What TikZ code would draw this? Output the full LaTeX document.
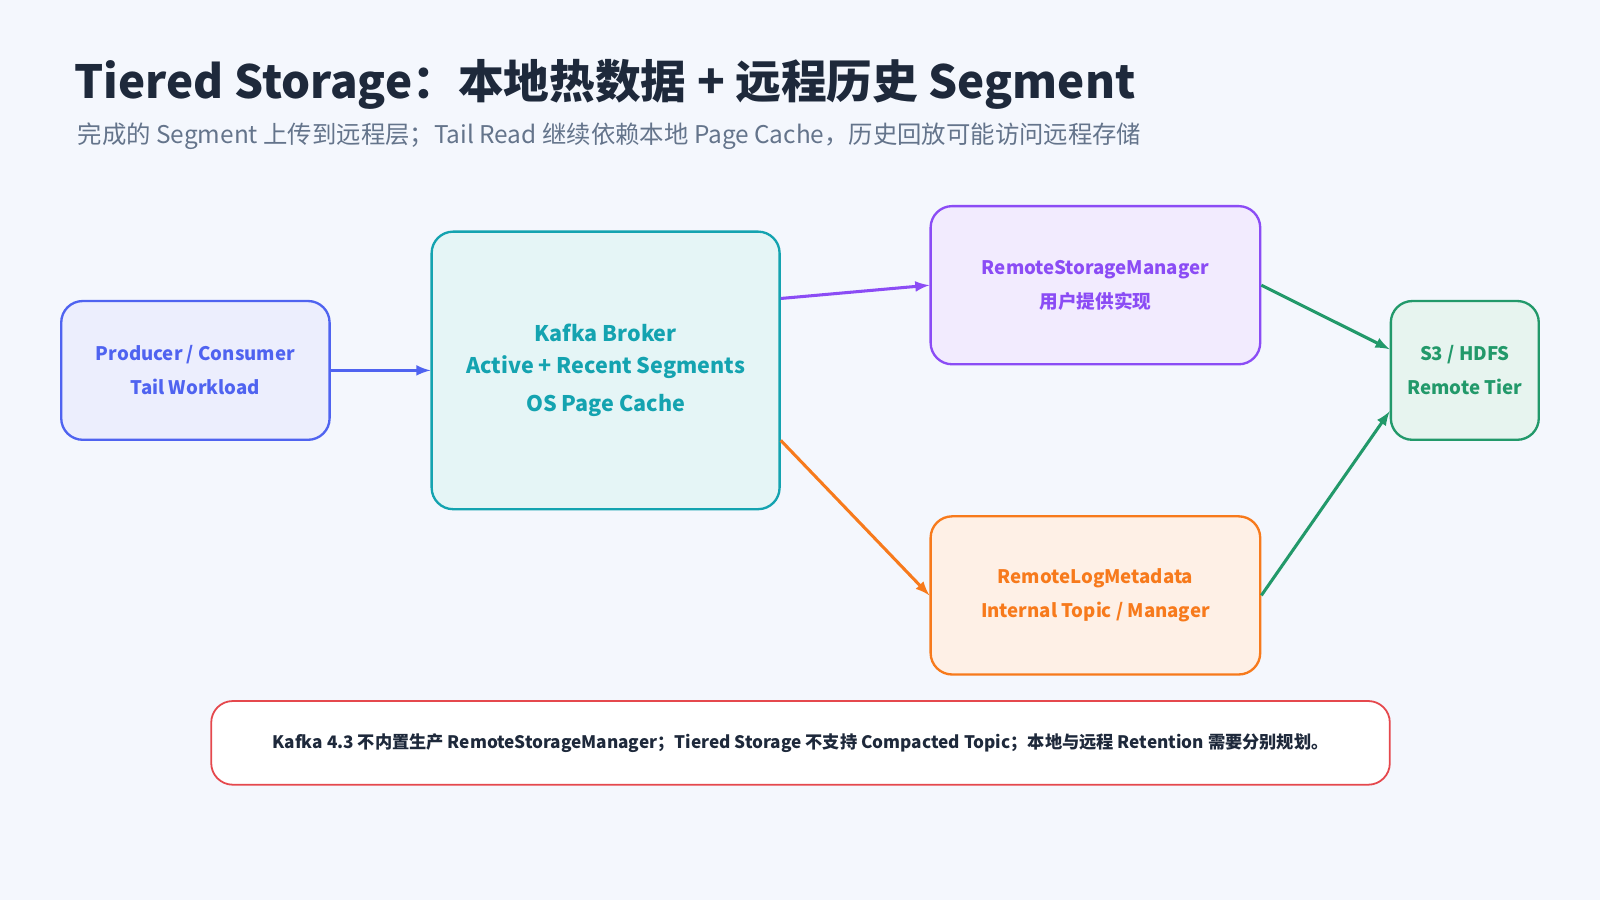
\documentclass[tikz,border=0pt]{standalone}
\usepackage{fontspec}
\setmainfont{Noto Sans CJK SC}
\usetikzlibrary{calc}
\definecolor{bgc}{HTML}{F4F7FD}
\definecolor{titc}{HTML}{1E293B}
\definecolor{subc}{HTML}{64748B}
\definecolor{blu}{HTML}{4F63F0}
\definecolor{tea}{HTML}{14A3B0}
\definecolor{pur}{HTML}{8B4CF5}
\definecolor{ora}{HTML}{F77A1C}
\definecolor{grn}{HTML}{22996A}
\definecolor{rd}{HTML}{E5484D}
\begin{document}
\begin{tikzpicture}[x=0.02cm,y=-0.02cm,
	box/.style={draw=#1,fill=#1!11,text=#1,line width=1.3pt,rounded corners=12pt,
		align=center,font=\bfseries\fontsize{10.4}{19}\selectfont,inner sep=0pt},
	link/.style={draw=#1,line width=1.7pt,-latex}]

	\fill[bgc] (0,0) rectangle (1568,882);
	\node[anchor=west,text=titc,font=\bfseries\fontsize{25.5}{30}\selectfont] (title) at (67,83)
		{Tiered Storage：本地热数据 + 远程历史 Segment};
	\node[anchor=west,text=subc,font=\fontsize{13.6}{16}\selectfont] (sub) at (70,133)
		{完成的 Segment 上传到远程层；Tail Read 继续依赖本地 Page Cache，历史回放可能访问远程存储};

	\node[box=blu,minimum width=263*0.02cm,minimum height=136*0.02cm] (client) at (191.5,363)
		{Producer / Consumer\\Tail Workload};
	\node[box=tea,minimum width=341*0.02cm,minimum height=272*0.02cm,
		font=\bfseries\fontsize{12}{18}\selectfont] (broker) at (593.5,363)
		{Kafka Broker\\Active + Recent Segments\\[3pt]OS Page Cache};
	\node[box=pur,minimum width=323*0.02cm,minimum height=155*0.02cm] (rsm) at (1073.5,279.5)
		{RemoteStorageManager\\用户提供实现};
	\node[box=ora,minimum width=323*0.02cm,minimum height=155*0.02cm] (rlm) at (1073.5,583.5)
		{RemoteLogMetadata\\Internal Topic / Manager};
	\node[box=grn,minimum width=145*0.02cm,minimum height=136*0.02cm] (remote) at (1435.5,363)
		{S3 / HDFS\\Remote Tier};
	\node[draw=rd,fill=white,line width=1pt,rounded corners=12pt,inner sep=0pt,
		minimum width=1155*0.02cm,minimum height=82*0.02cm,text=titc,
		font=\bfseries\fontsize{9.6}{12}\selectfont] (note) at (784.5,728)
		{Kafka 4.3 不内置生产 RemoteStorageManager；Tiered Storage 不支持 Compacted Topic；本地与远程 Retention 需要分别规划。};

	\draw[link=blu] (client.east) -- (broker.west);
	\draw[link=pur] ($(broker.north east)!0.243!(broker.south east)$) -- (rsm.west);
	\draw[link=ora] ($(broker.north east)!0.75!(broker.south east)$) -- (rlm.west);
	\draw[link=grn] (rsm.east) -- ($(remote.north west)!0.35!(remote.south west)$);
	\draw[link=grn] (rlm.east) -- ($(remote.north west)!0.79!(remote.south west)$);
\end{tikzpicture}
\end{document}
